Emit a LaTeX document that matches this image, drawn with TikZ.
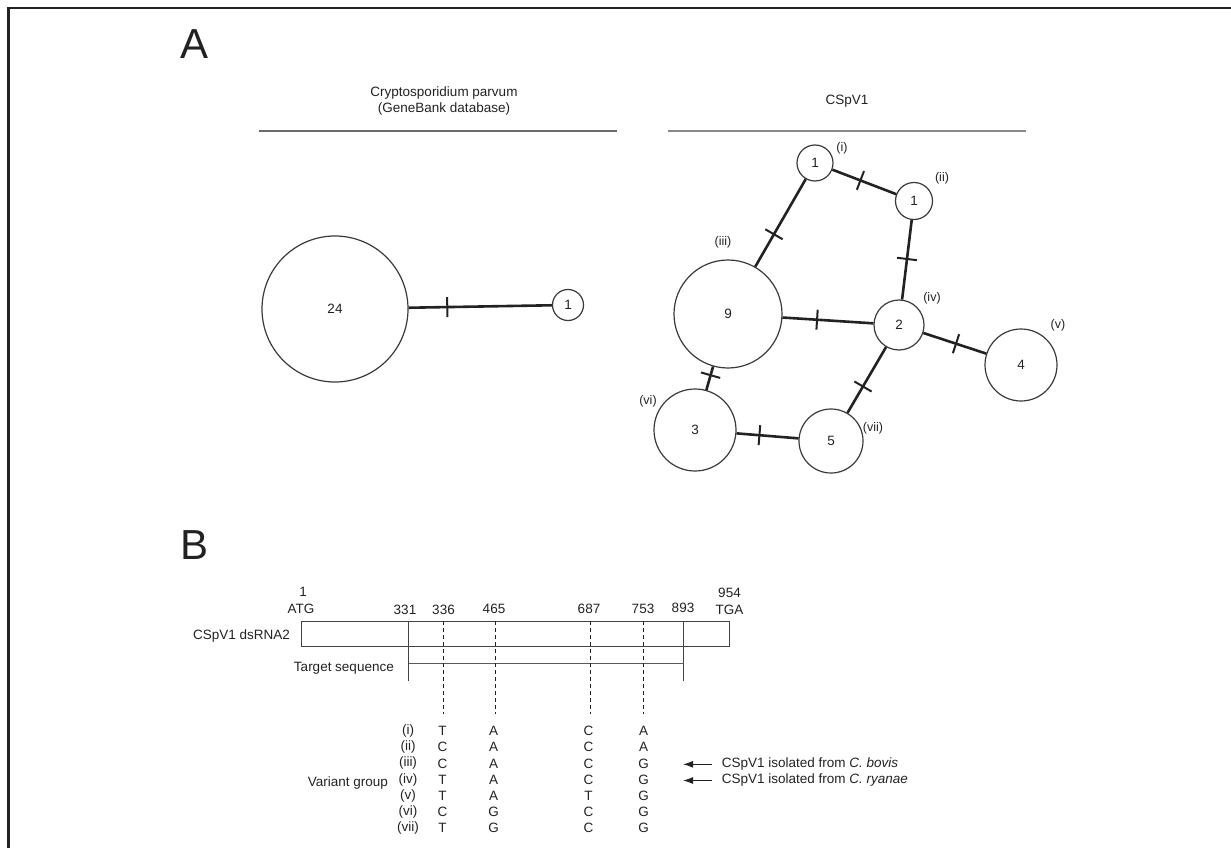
\documentclass[tikz,border=0pt]{standalone}
\usepackage{fontspec}
\setmainfont{Liberation Sans}
\usetikzlibrary{arrows.meta,decorations.markings}

\definecolor{ink}{HTML}{222222}
\definecolor{ring}{HTML}{3A3A3A}
\definecolor{rule}{HTML}{6A6A6A}

\tikzset{
  every node/.style={inner sep=0pt, font=\fontsize{13.5}{16}\selectfont, text=ink},
  panel/.style={font=\fontsize{42}{46}\selectfont},
  small/.style={font=\fontsize{12.5}{15}\selectfont},
  hap/.style={circle, draw=ring, line width=1.2pt, minimum size=#1},
  edge/.style={draw=ink, line width=2.6pt},
  tickat/.style={postaction={decorate, decoration={markings,
      mark=at position #1 with {\draw[ink, line width=2pt] (0,-10) -- (0,10);}}}},
  headrule/.style={draw=rule, line width=1.3pt},
  seq/.style={draw=ink!85, line width=1pt},
  guide/.style={draw=ink, line width=0.8pt, dash pattern=on 4pt off 3pt},
  arr/.style={draw=ink, line width=1.2pt, -{Latex[length=10pt,width=7pt]}}
}

\begin{document}
\begin{tikzpicture}[x=1pt, y=-1pt]
\useasboundingbox (0,0) rectangle (1231,848);

% frame
\draw[ink, line width=2.4pt] (1231,8) -- (8.5,8) -- (8.5,848);

% ---------------- panel A ----------------
\node[panel] (labA) at (195,44) {A};

\node[align=center] (titleL) at (444,101) {Cryptosporidium parvum\\(GeneBank database)};
\coordinate (ruleLa) at (259,131);
\coordinate (ruleLb) at (617,131);
\draw[headrule] (ruleLa) -- (ruleLb);

\node (titleR) at (847,101) {CSpV1};
\coordinate (ruleRa) at (668,131);
\coordinate (ruleRb) at (1026,131);
\draw[headrule, draw=rule!80] (ruleRa) -- (ruleRb);

% C. parvum network
\node[hap=146pt] (p24) at (335,309) {24};
\node[hap=31pt]  (p1)  at (568,305) {1};
\draw[edge, tickat=0.27] (p24) -- (p1);

% CSpV1 network
\node[hap=36pt]  (hi)   at (815,163) {1};
\node[hap=37pt]  (hii)  at (914,201) {1};
\node[hap=108pt] (hiii) at (728,314) {9};
\node[hap=50pt]  (hiv)  at (899,325) {2};
\node[hap=72pt]  (hv)   at (1021,365) {4};
\node[hap=82pt]  (hvi)  at (695,430) {3};
\node[hap=64pt]  (hvii) at (831,441) {5};

\node[small] (li)   at (842,148) {(i)};
\node[small] (lii)  at (942,178) {(ii)};
\node[small] (liii) at (723,242) {(iii)};
\node[small] (liv)  at (932,298) {(iv)};
\node[small] (lv)   at (1058,325) {(v)};
\node[small] (lvi)  at (648,401) {(vi)};
\node[small] (lvii) at (873,428) {(vii)};

\draw[edge, tickat=0.44] (hi) -- (hii);
\draw[edge, tickat=0.63] (hi) -- (hiii);
\draw[edge, tickat=0.49] (hii) -- (hiv);
\draw[edge, tickat=0.38] (hiii) -- (hiv);
\draw[edge, tickat=0.52] (hiv) -- (hv);
\draw[edge, tickat=0.60] (hiv) -- (hvii);
\draw[edge, tickat=0.37] (hiii) -- (hvi);
\draw[edge, tickat=0.37] (hvi) -- (hvii);

% ---------------- panel B ----------------
\node[panel] (labB) at (195,545) {B};

\node[seq, minimum width=428pt, minimum height=25pt] (box) at (515.5,633.5) {};
\node[anchor=east] (dsrna) at (290,636) {CSpV1 dsRNA2};

\node (n1)   at (303,592) {1};
\node (atg)  at (301,609) {ATG};
\node (n954) at (729.5,593) {954};
\node (tga)  at (729.5,610) {TGA};
\node (n331) at (405,610) {331};
\node (n336) at (443.5,610) {336};
\node (n465) at (494,609) {465};
\node (n687) at (589,609) {687};
\node (n753) at (643,609) {753};
\node (n893) at (683,608) {893};

% target sequence bracket
\coordinate (t1top) at (408.6,621);
\coordinate (t1bot) at (408.6,681);
\coordinate (t2top) at (683.5,621);
\coordinate (t2bot) at (683.5,681);
\coordinate (t1mid) at (408.6,663);
\coordinate (t2mid) at (683.5,663);
\draw[seq] (t1top) -- (t1bot);
\draw[seq] (t2top) -- (t2bot);
\draw[seq, draw=ink!75] (t1mid) -- (t2mid);
\node[anchor=east] (target) at (394,668) {Target sequence};

% variable sites
\foreach \nm/\x in {a/443.5, b/495.4, c/590.4, d/643.7}{
  \coordinate (s\nm top) at (\x,621);
  \coordinate (s\nm bot) at (\x,714);
  \draw[guide] (s\nm top) -- (s\nm bot);
}

% variant table
\foreach \r/\a/\b/\c/\d [count=\i] in
  {i/T/A/C/A, ii/C/A/C/A, iii/C/A/C/G, iv/T/A/C/G, v/T/A/T/G, vi/C/G/C/G, vii/T/G/C/G}{
  \pgfmathsetmacro\yy{731+(\i-1)*16.2}
  \node (row\i)  at (408,\yy) {(\r)};
  \node (ca\i)   at (442.6,\yy) {\a};
  \node (cb\i)   at (493.5,\yy) {\b};
  \node (cc\i)   at (588.5,\yy) {\c};
  \node (cd\i)   at (643.5,\yy) {\d};
}
\node[anchor=east] (vg) at (388,782.7) {Variant group};

% isolate annotations
\node[anchor=west] (bovis)  at (721.7,764.3) {CSpV1 isolated from \textit{C. bovis}};
\node[anchor=west] (ryanae) at (721.7,780.5) {CSpV1 isolated from \textit{C. ryanae}};
\coordinate (tipb) at (683,764.3);
\coordinate (tipr) at (683,780.5);
\draw[arr] ([xshift=-10pt]bovis.west) -- (tipb);
\draw[arr] ([xshift=-10pt]ryanae.west) -- (tipr);
\end{tikzpicture}
\end{document}
